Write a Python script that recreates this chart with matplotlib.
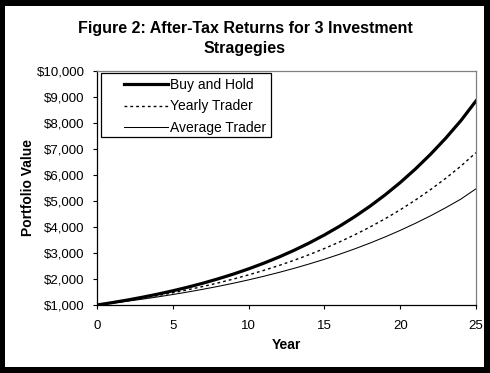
import matplotlib
matplotlib.use('Agg')
import matplotlib.pyplot as plt
from matplotlib.patches import Rectangle
from matplotlib.ticker import FuncFormatter

plt.rcParams['font.family'] = ['Liberation Sans', 'DejaVu Sans']

# 数据: 各年份的组合价值
years = list(range(26))
buy_and_hold = [1000, 1091, 1190, 1299, 1417, 1546, 1687, 1840, 2008, 2190,
                2390, 2607, 2844, 3103, 3386, 3694, 4030, 4397, 4797, 5233,
                5709, 6229, 6796, 7414, 8089, 8850]
yearly_trader = [1000, 1080, 1166, 1260, 1360, 1469, 1587, 1714, 1851, 1999,
                 2159, 2332, 2518, 2720, 2937, 3172, 3426, 3700, 3996, 4316,
                 4661, 5034, 5437, 5871, 6341, 6860]
average_trader = [1000, 1070, 1145, 1225, 1311, 1403, 1501, 1606, 1718, 1838,
                  1967, 2105, 2252, 2410, 2579, 2759, 2952, 3159, 3380, 3617,
                  3870, 4141, 4430, 4741, 5072, 5470]
x_ticks = [0, 5, 10, 15, 20, 25]
y_ticks = list(range(1000, 11000, 1000))

W, H = 490, 373
fig = plt.figure(figsize=(W / 100, H / 100), dpi=100, facecolor='black')

# 白色背景框, 外面留黑边
fig.patches.append(Rectangle((5 / W, 1 - 367 / H), 479 / W, 361 / H,
                             transform=fig.transFigure, facecolor='white',
                             edgecolor='none', zorder=-5))

ax_l, ax_t, ax_w, ax_h = 97, 71, 379, 234
ax = fig.add_axes([ax_l / W, 1 - (ax_t + ax_h) / H, ax_w / W, ax_h / H])
ax.set_zorder(2)
ax.set_facecolor('white')

ax.plot(years, buy_and_hold, color='black', lw=2.3, label='Buy and Hold')
ax.plot(years, yearly_trader, color='black', lw=1.0, dashes=(2, 2.2), label='Yearly Trader')
ax.plot(years, average_trader, color='black', lw=0.75, label='Average Trader')

ax.set_xlim(0, 25)
ax.set_ylim(1000, 10000)
ax.set_xticks(x_ticks)
ax.set_yticks(y_ticks)
ax.yaxis.set_major_formatter(FuncFormatter(lambda v, p: '${:,.0f}'.format(v)))
ax.tick_params(direction='out', length=3, width=0.8, labelsize=9.5, color='black')
ax.tick_params(axis='y', pad=6)
ax.tick_params(axis='x', pad=8)

for side in ['left', 'bottom']:
    ax.spines[side].set_color('black')
    ax.spines[side].set_linewidth(0.9)
for side in ['top', 'right']:
    ax.spines[side].set_color('#808080')
    ax.spines[side].set_linewidth(0.9)

ax.set_xlabel('Year', fontsize=10, fontweight='bold', labelpad=4)
ax.set_ylabel('Portfolio Value', fontsize=10, fontweight='bold', labelpad=1)

# 图例外框单独画, 位置按像素换算成坐标轴比例
def px_to_ax(px, py):
    return (px - ax_l) / ax_w, (ax_t + ax_h - py) / ax_h

bx0, by0 = px_to_ax(101, 137)
bx1, by1 = px_to_ax(271, 73)
ax.add_patch(Rectangle((bx0, by0), bx1 - bx0, by1 - by0, transform=ax.transAxes,
                       facecolor='white', edgecolor='black', lw=0.9, zorder=4))

lx, ly = px_to_ax(121, 75)
leg = ax.legend(loc='upper left', bbox_to_anchor=(lx, ly), borderaxespad=0,
                frameon=False, fontsize=10, handlelength=3.2,
                handletextpad=0.15, labelspacing=0.55, borderpad=0.2)
leg.set_zorder(5)

fig.text(0.5, 1 - 28 / H, 'Figure 2: After-Tax Returns for 3 Investment', ha='center', va='center',
         fontsize=11.5, fontweight='bold', zorder=3)
fig.text(0.5, 1 - 48 / H, 'Stragegies', ha='center', va='center',
         fontsize=11.5, fontweight='bold', zorder=3)

fig.savefig('out.png', dpi=100, facecolor='black')
